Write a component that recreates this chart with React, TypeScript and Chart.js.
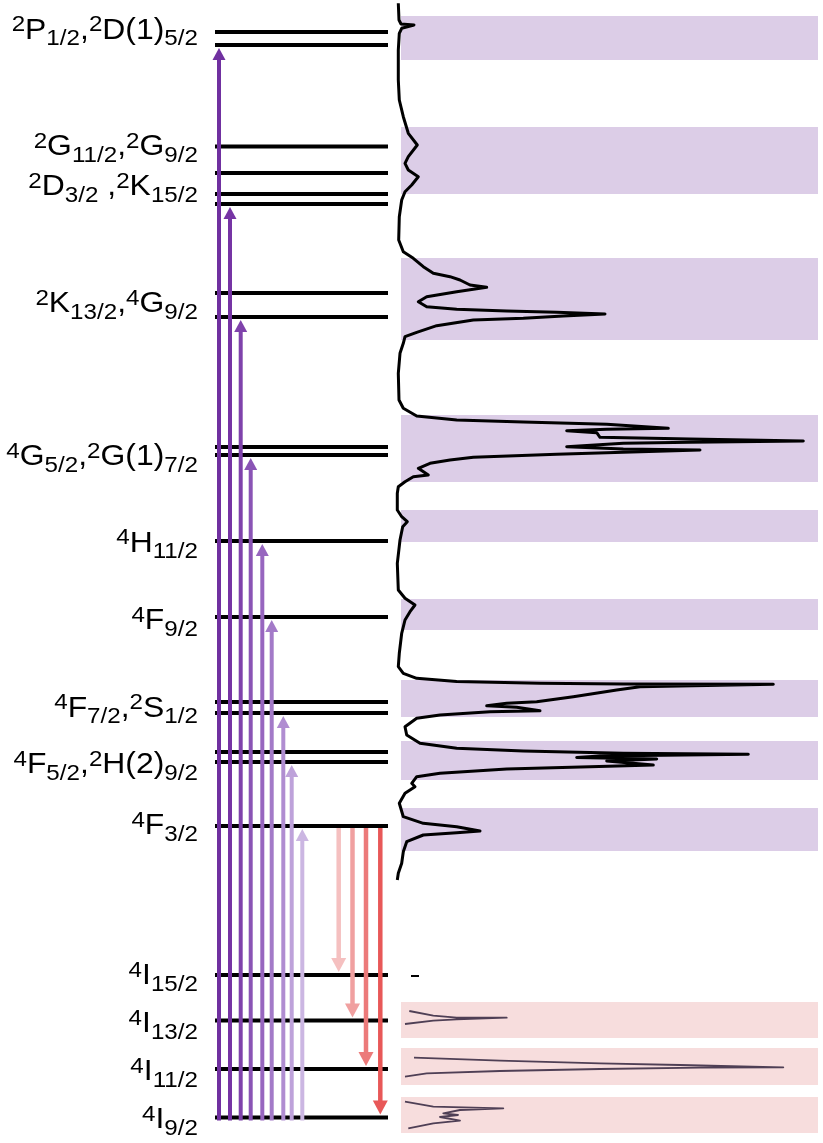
import React, { useEffect, useRef } from "react";
import { Chart, registerables } from "chart.js";

Chart.register(...registerables);

// ---------- DATA (diagram position: 0 = top, 1143 = bottom) ----------
const levelPositions = [
  32, 45, 146.5, 173, 194, 204, 293, 317, 447, 455, 541, 617, 702, 713, 752, 762, 826, 975, 1020.5, 1069, 1117.5,
];

const levelLabels = [
  "^2P_{1/2},^2D(1)_{5/2}",
  "^2G_{11/2},^2G_{9/2}",
  "^2D_{3/2} ,^2K_{15/2}",
  "^2K_{13/2},^4G_{9/2}",
  "^4G_{5/2},^2G(1)_{7/2}",
  "^4H_{11/2}",
  "^4F_{9/2}",
  "^4F_{7/2},^2S_{1/2}",
  "^4F_{5/2},^2H(2)_{9/2}",
  "^4F_{3/2}",
  "^4I_{15/2}",
  "^4I_{13/2}",
  "^4I_{11/2}",
  "^4I_{9/2}",
];
const labelBaselines = [38.5, 155, 195, 312, 465, 551.5, 629, 716.5, 773, 834, 984, 1032, 1080, 1128];

// excitation (up) arrows from ground state 4I9/2
const absorptionTargets = [45, 204, 317, 455, 541, 617, 713, 762, 826];
const absorptionArrowX = [219, 230, 240.7, 250.7, 262.3, 271.7, 283.3, 291.7, 302.3];
const groundLevel = 1117.5;

// emission (down) arrows from 4F3/2
const emissionTargets = [975, 1020.5, 1069, 1117.5];
const emissionArrowX = [338.7, 352.5, 366, 380.3];
const emittingLevel = 826;

// shaded regions
const absorptionBands: [number, number][] = [
  [16, 60], [127, 194], [258, 340], [415, 482], [510, 542], [599, 630], [680, 717], [741, 780], [808, 851],
];
const emissionBands: [number, number][] = [[1002, 1038], [1048, 1085], [1097, 1133]];

// absorption spectrum (position, absorbance)
const absPosition = [
  3.3, 20, 24, 25, 28.3, 33.3, 50, 80, 100, 116.7, 133.3, 145, 156.7, 163.3, 170, 176.7, 185, 191.7, 200, 216.7,
  240, 251.7, 258.3, 266.7, 273.3, 276.7, 280, 285, 287.3, 291.7, 296.7, 301.7, 306.7, 309.3, 311, 312.3, 314,
  316, 318.3, 320, 325.7, 332.3, 336.7, 343.3, 353.3, 373.3, 400, 408.3, 416, 420, 422, 424.3, 428.3, 429.3,
  430.7, 432.7, 437.3, 439, 441, 442.3, 443.3, 446.7, 449, 450, 452.3, 454.3, 457.3, 460, 463.3, 468.3, 475,
  476.7, 481.7, 486.7, 493.3, 510, 516.7, 521.7, 526.7, 540, 563.3, 590, 598.3, 605, 611.7, 620, 633.3, 653.3,
  666.7, 673.3, 678.3, 681.5, 683.3, 684, 684.3, 686.7, 690, 696.7, 701.7, 703.3, 705.7, 707.3, 710.7, 711.7,
  715, 718.3, 726.7, 735, 743.3, 748.3, 751, 753.3, 754.3, 756, 757.5, 759, 761, 765, 766.7, 769, 773.3, 776.7,
  783.3, 786.7, 793.3, 803.3, 816.7, 823.3, 826.7, 831, 832.7, 835, 841.7, 851.7, 863.3, 873.3, 880,
];
const absIntensity = [
  398.3, 399, 401, 414, 401.7, 399.3, 398.3, 398.3, 399.3, 403.3, 408.3, 417.3, 408.3, 405, 408.3, 418.3, 411.7,
  405, 401.7, 399.3, 398.7, 403.3, 413.3, 423.3, 433.3, 450, 460, 470, 486.7, 456.7, 426.7, 418.3, 426.7, 456.7,
  506.7, 556.7, 605, 563.3, 523.3, 473.3, 436.7, 416.7, 405, 403.3, 400, 398.3, 399, 403.3, 416.7, 456.7, 523.3,
  606.7, 668.3, 606.7, 566.7, 596.7, 600, 690, 803.3, 690, 623.3, 566.7, 623.3, 700, 623.3, 556.7, 473.3, 450,
  430, 418.3, 428.3, 413.3, 405, 398.3, 397.3, 397.3, 401.7, 407.3, 402.7, 400, 397.3, 398.3, 405, 415, 410, 405,
  401.7, 399.3, 398.3, 403.3, 416.7, 456.7, 540, 623.3, 773.3, 640, 616.7, 573.3, 536.7, 506.7, 486.7, 516.7,
  540, 490, 440, 416.7, 405, 406.7, 420, 456.7, 523.3, 623.3, 748.3, 600, 576.7, 656.7, 606.7, 653.3, 590,
  506.7, 440, 416.7, 411.7, 415, 405, 399.3, 403.3, 423.3, 456.7, 480, 456.7, 423.3, 406.7, 403.3, 401.7, 398.3,
  397.3,
];

// emission spectra (position, intensity)
const em1Position = [1011, 1015.7, 1017.7, 1017.7, 1019.3, 1020.7, 1024];
const em1Intensity = [409.3, 433.3, 456.7, 506.7, 456.7, 433.3, 405];
const em2Position = [1057.7, 1060.7, 1063.3, 1065, 1067.3, 1067.7, 1069, 1071, 1073.3, 1076.7];
const em2Intensity = [414, 500, 600, 680, 783.3, 700, 600, 500, 426.7, 405];
const em3Position = [1101.7, 1106.7, 1108.3, 1110, 1113.3, 1115, 1117, 1120.7, 1123.3, 1128.3];
const em3Intensity = [405, 433.3, 503.3, 460, 443.3, 458, 440, 460, 433.3, 408.3];
const em0Position = [976, 976];
const em0Intensity = [411, 419];

// ---------- STYLE / LAYOUT ----------
const W = 823;
const H = 1143;
const levelX0 = 215;
const levelX1 = 388;
const bandX0 = 401;
const bandX1 = 818;
const labelRight = 198;
const upColors = ["#7030a0", "#7634a4", "#7f42ab", "#8a54b5", "#9766bf", "#a37ac8", "#b08dd1", "#bea2da", "#cbb6e2"];
const downColors = ["#f5c0c0", "#f0a0a0", "#ec7a7a", "#e85858"];

function toPts(ys: number[], xs: number[]) {
  return ys.map((y, i) => ({ x: xs[i], y }));
}

type Seg = { t: string; k: "n" | "sup" | "sub" };
function parseLabel(s: string): Seg[] {
  const out: Seg[] = [];
  let buf = "";
  for (let i = 0; i < s.length; i++) {
    const c = s[i];
    if (c === "^") {
      if (buf) out.push({ t: buf, k: "n" });
      buf = "";
      out.push({ t: s[i + 1], k: "sup" });
      i++;
    } else if (c === "_" && s[i + 1] === "{") {
      if (buf) out.push({ t: buf, k: "n" });
      buf = "";
      const end = s.indexOf("}", i);
      out.push({ t: s.slice(i + 2, end), k: "sub" });
      i = end;
    } else buf += c;
  }
  if (buf) out.push({ t: buf, k: "n" });
  return out;
}

const diagramPlugin = {
  id: "diagram",
  beforeDatasetsDraw(chart: any) {
    const { ctx, scales } = chart;
    const xs = scales.x;
    const ys = scales.y;
    ctx.save();
    const drawBand = (b: [number, number], col: string) => {
      const x0 = xs.getPixelForValue(bandX0);
      const x1 = xs.getPixelForValue(bandX1);
      const y0 = ys.getPixelForValue(b[0]);
      const y1 = ys.getPixelForValue(b[1]);
      ctx.fillStyle = col;
      ctx.fillRect(x0, y0, x1 - x0, y1 - y0);
    };
    absorptionBands.forEach((b) => drawBand(b, "#dccde7"));
    emissionBands.forEach((b) => drawBand(b, "#f7dddd"));
    ctx.restore();
  },
  afterDatasetsDraw(chart: any) {
    const { ctx, scales } = chart;
    const xs = scales.x;
    const ys = scales.y;
    ctx.save();
    // levels
    ctx.strokeStyle = "#000";
    ctx.lineWidth = 4;
    ctx.lineCap = "butt";
    levelPositions.forEach((p) => {
      const y = ys.getPixelForValue(p);
      ctx.beginPath();
      ctx.moveTo(xs.getPixelForValue(levelX0), y);
      ctx.lineTo(xs.getPixelForValue(levelX1), y);
      ctx.stroke();
    });
    // arrows
    const arrow = (x: number, yFrom: number, yTip: number, col: string, lw: number, hw: number, hl: number) => {
      const dir = yTip < yFrom ? -1 : 1;
      ctx.strokeStyle = col;
      ctx.fillStyle = col;
      ctx.lineWidth = lw;
      ctx.beginPath();
      ctx.moveTo(x, yFrom);
      ctx.lineTo(x, yTip - dir * (hl - 1));
      ctx.stroke();
      ctx.beginPath();
      ctx.moveTo(x, yTip);
      ctx.lineTo(x - hw / 2, yTip - dir * hl);
      ctx.lineTo(x + hw / 2, yTip - dir * hl);
      ctx.closePath();
      ctx.fill();
    };
    absorptionTargets.forEach((t, i) => {
      arrow(
        xs.getPixelForValue(absorptionArrowX[i]),
        ys.getPixelForValue(groundLevel + 3),
        ys.getPixelForValue(t + 3),
        upColors[i], 4, 13, 12
      );
    });
    emissionTargets.forEach((t, i) => {
      arrow(
        xs.getPixelForValue(emissionArrowX[i]),
        ys.getPixelForValue(emittingLevel + 2),
        ys.getPixelForValue(t - 3),
        downColors[i], 4.5, 15, 14
      );
    });
    // labels
    const mainFont = "29px 'Liberation Sans', Arial, sans-serif";
    const scriptFont = "22px 'Liberation Sans', Arial, sans-serif";
    const sx = 1.1;
    ctx.fillStyle = "#000";
    ctx.textBaseline = "alphabetic";
    ctx.textAlign = "left";
    levelLabels.forEach((lab, i) => {
      const segs = parseLabel(lab);
      let w = 0;
      segs.forEach((s) => {
        ctx.font = s.k === "n" ? mainFont : scriptFont;
        w += ctx.measureText(s.t).width;
      });
      const right = xs.getPixelForValue(labelRight);
      const base = ys.getPixelForValue(labelBaselines[i]);
      ctx.save();
      ctx.translate(right - w * sx, base);
      ctx.scale(sx, 1);
      let cx = 0;
      segs.forEach((s) => {
        ctx.font = s.k === "n" ? mainFont : scriptFont;
        const dy = s.k === "sup" ? -7.5 : s.k === "sub" ? 6.5 : 0;
        ctx.fillText(s.t, cx, dy);
        cx += ctx.measureText(s.t).width;
      });
      ctx.restore();
    });
    ctx.restore();
  },
};

export default function App() {
  const ref = useRef<HTMLCanvasElement | null>(null);
  useEffect(() => {
    if (!ref.current) return;
    const emStyle = {
      showLine: true,
      pointRadius: 0,
      borderColor: "rgba(60,45,70,0.9)",
      borderWidth: 1.8,
      borderJoinStyle: "round" as const,
      tension: 0,
    };
    const chart = new Chart(ref.current, {
      type: "scatter",
      data: {
        datasets: [
          {
            data: toPts(absPosition, absIntensity),
            showLine: true,
            pointRadius: 0,
            borderColor: "#000",
            borderWidth: 3,
            borderJoinStyle: "round",
            tension: 0,
          },
          { data: toPts(em1Position, em1Intensity), ...emStyle },
          { data: toPts(em2Position, em2Intensity), ...emStyle },
          { data: toPts(em3Position, em3Intensity), ...emStyle },
          { data: toPts(em0Position, em0Intensity), ...emStyle, borderColor: "#000", borderWidth: 2 },
        ],
      },
      options: {
        animation: false,
        responsive: true,
        maintainAspectRatio: false,
        events: [],
        layout: { padding: 0 },
        plugins: { legend: { display: false }, tooltip: { enabled: false } },
        scales: {
          x: { type: "linear", min: 0, max: W, display: false },
          y: { type: "linear", min: 0, max: H, reverse: true, display: false },
        },
      },
      plugins: [diagramPlugin],
    });
    return () => chart.destroy();
  }, []);
  return (
    <div style={{ position: "absolute", left: 0, top: 0, width: W, height: H, background: "#fff" }}>
      <canvas ref={ref} />
    </div>
  );
}
